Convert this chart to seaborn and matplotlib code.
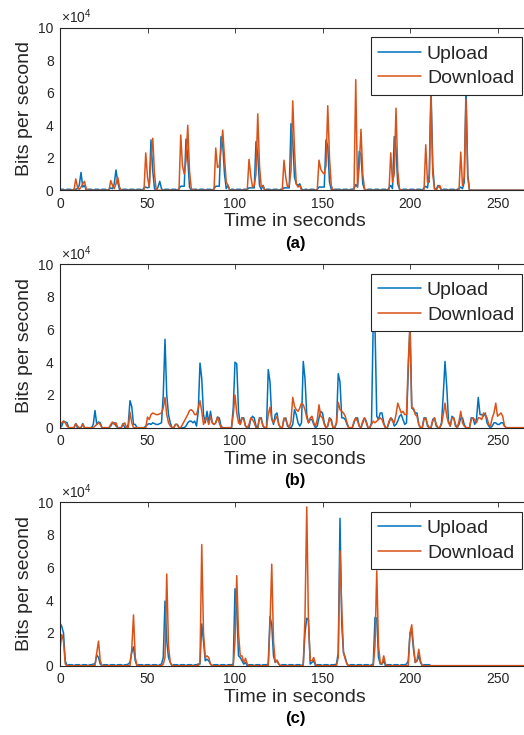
import numpy as np
import pandas as pd
import matplotlib
matplotlib.use('Agg')
import matplotlib.pyplot as plt
import seaborn as sns

# Traffic samples, one per second (t = 0 .. 265), in units of 1000 bits per second.
# Each row below covers 20 seconds.
upload_a = [
    0.6, 0.6, 0.6, 0, 0.6, 0.6, 0.6, 0, 0.6, 0.6, 1, 3, 11, 2, 3, 0, 0.6, 0.6, 0.6, 0,
    0.6, 0.6, 0.6, 0, 0.6, 0.6, 0.6, 0, 0.6, 1.5, 1, 4, 12.5, 5, 0.6, 0, 0.6, 0.6, 0.6, 0,
    0.6, 0.6, 0.6, 0, 0.6, 0.6, 0.6, 0, 1.5, 2, 1.5, 2, 31, 12, 1, 0, 2, 5.5, 1, 0,
    0.6, 0.6, 0.6, 0, 0.6, 0.6, 0.6, 0, 1, 2.5, 2.5, 2.5, 31.5, 20, 2, 0, 0.6, 0.6, 0.6, 0,
    0.6, 0.6, 0.6, 0, 0.6, 0.6, 0.6, 0, 1, 2.5, 2.5, 2.5, 33, 28, 10, 1, 3, 0, 0.6, 0.6,
    0, 0.6, 0.6, 0.6, 0, 0.6, 0.6, 0.6, 1.5, 1.5, 1.5, 1.5, 30, 22, 3, 0.6, 3, 0, 0.6, 0.6,
    0.6, 0, 0.6, 0.6, 0.6, 0, 0.6, 0.6, 1.5, 1.5, 1.5, 1.5, 41, 30, 8, 4, 3, 4, 1, 0,
    0.6, 0.6, 0, 0.6, 0.6, 0.6, 0, 0.6, 2, 2, 2, 2, 31, 27, 5, 0.6, 0, 0.6, 0.6, 0.6,
    0.6, 0, 0.6, 0.6, 0.6, 0, 0.6, 0.6, 1, 3.5, 2, 24, 22, 4, 0.6, 0, 0.6, 0.6, 0.6, 0,
    0.6, 0.6, 0.6, 0, 0.6, 0.6, 0.6, 0, 1.5, 3, 1, 33, 25, 4, 0.6, 0, 0.6, 0.6, 0.6, 0,
    0.6, 0.6, 0.6, 0, 0.6, 0.6, 0.6, 0, 1.5, 2.5, 1.5, 10, 63, 15, 1, 0.6, 3, 2, 0, 0.6,
    0.6, 0.6, 0, 0.6, 0.6, 0.6, 0, 0.6, 1, 2, 1, 5, 63, 10, 0, 0, 0, 0, 0, 0,
    0, 0, 0, 0, 0, 0, 0, 0, 0, 0, 0, 0, 0, 0, 0, 0, 0, 0, 0, 0,
    0, 0, 0, 0, 0, 0,
]
download_a = [
    0, 0, 0, 0, 0, 0, 0, 0, 0, 7, 2, 0.5, 2, 4, 5.5, 1, 0, 0, 0, 0,
    0, 0, 0, 0, 0, 0, 0, 0, 0, 6, 3, 1, 4, 8, 2, 0, 0, 0, 0, 0,
    0, 0, 0, 0, 0, 0, 0, 0, 0, 23, 8, 2, 20, 32, 10, 0, 0, 0, 0, 0,
    0, 0, 0, 0, 0, 0, 0, 0, 0, 34, 15, 10, 18, 40, 12, 1, 0, 0, 0, 0,
    0, 0, 0, 0, 0, 0, 0, 0, 0, 26, 14, 15, 25, 37, 20, 5, 3, 0, 0, 0,
    0, 0, 0, 0, 0, 0, 0, 0, 19, 9, 2, 3, 10, 47, 15, 2, 3, 0, 0, 0,
    0, 0, 0, 0, 0, 0, 0, 0, 18.5, 8, 2, 3, 12, 55, 25, 4, 2, 3, 0, 0,
    0, 0, 0, 0, 0, 0, 0, 0, 18.5, 13, 11, 10, 15, 52, 20, 3, 0, 0, 0, 0,
    0, 0, 0, 0, 0, 0, 0, 0, 0, 68, 2, 15, 37.5, 10, 1, 0, 0, 0, 0, 0,
    0, 0, 0, 0, 0, 0, 0, 0, 0, 23, 5, 10, 50.5, 12, 1, 0, 0, 0, 0, 0,
    0, 0, 0, 0, 0, 0, 0, 0, 0, 28, 5, 5, 58, 10, 1, 0, 2, 3, 0, 0,
    0, 0, 0, 0, 0, 0, 0, 0, 0, 23.5, 3, 8, 56, 8, 0, 0, 0, 0, 0, 0,
    0, 0, 0, 0, 0, 0, 0, 0, 0, 0, 0, 0, 0, 0, 0, 0, 0, 0, 0, 0,
    0, 0, 0, 0, 0, 0,
]

upload_b = [
    0, 1, 4, 3.5, 3, 0, 0, 0, 0, 2.5, 0, 0, 0, 2.5, 0, 0, 0, 0, 0, 2,
    10.5, 2, 3.5, 3, 0, 0, 0, 0, 0, 1, 3, 3, 1, 0, 0, 0, 2.5, 0, 0, 2,
    16.5, 13, 2, 2, 0, 0, 0, 0, 0, 1, 2, 2.5, 2, 3, 2.5, 2, 2, 2.5, 3, 20,
    54, 20, 8, 3, 0, 0, 2, 2, 0, 0, 0, 0, 1, 3, 4, 4, 3, 4, 1, 10,
    39.5, 30, 8, 3, 10, 3, 10, 3, 2, 3, 6.5, 6, 1, 0, 0, 0, 0, 0, 0, 12,
    40, 39, 10, 2, 6, 6, 1, 0, 0, 5, 7, 6, 1, 0, 6, 6, 1, 0, 0, 35.5,
    28, 6, 2, 8, 9, 2, 0, 0, 5, 6, 1, 0, 0, 2, 11, 8, 3, 1, 3, 40.5,
    30, 8, 3, 5, 5, 2, 0, 1, 6, 10, 9, 3, 0, 1, 6, 5, 0, 0, 3, 33,
    28, 6, 6, 5, 2, 0, 0, 0, 3, 6, 6, 1, 0, 3, 6, 4, 0, 0, 3, 65,
    62, 7, 5, 9, 9, 3, 0, 0, 3, 6, 5, 1, 2, 4, 7, 8, 5, 2, 3, 35,
    64, 12, 11, 9, 9, 2, 0, 0, 6, 6, 1, 0, 0, 5, 6, 1, 0, 0, 3, 20,
    40.5, 25, 4, 1, 7, 6, 1, 0, 2, 6, 6, 2, 0, 0, 0, 6, 6, 2, 5, 18.5,
    8, 8, 7, 9, 3, 1, 0, 1, 3, 3, 2, 2, 3, 3, 1, 0, 0, 0, 0, 0,
    0, 0, 0, 0, 0, 0,
]
download_b = [
    0, 3, 4, 3, 1, 0, 0, 0, 0, 2.5, 1, 0, 0, 2, 0, 0, 0, 0, 0, 0,
    1, 2, 3, 2, 0, 0, 0, 0, 0, 2, 3.5, 2, 3, 0, 0, 0, 2, 3, 0, 0,
    9.5, 3, 0, 0, 0, 0, 0, 0, 0, 0, 6.5, 5, 8, 9, 8.5, 8, 8, 8.5, 9, 12,
    18.5, 8, 3, 1, 0, 0, 2, 2, 0, 0, 2, 4, 6, 8, 10.5, 11, 10, 8, 8, 12,
    16.5, 10, 2, 5, 6, 2, 7, 3, 2, 3, 6.5, 3, 0, 0, 0, 0, 0, 0, 0, 8,
    20, 9, 3, 2, 6, 5, 1, 0, 2, 6, 5, 3, 0, 0, 6, 5, 1, 0, 0, 8,
    12.5, 5, 3, 5, 7, 2, 0, 0, 6, 5, 2, 0, 4, 18.5, 13, 11, 10, 12, 15, 14,
    11, 6, 3, 6, 7, 3, 1, 5, 14, 7, 6, 2, 0, 1, 6, 4, 0, 0, 3, 15.5,
    11, 10, 9, 7, 3, 0, 0, 0, 4, 6, 4, 1, 0, 4, 6, 3, 0, 0, 2, 4,
    3, 4, 5, 6, 5, 2, 0, 0, 4, 6, 4, 3, 8, 15, 12, 9, 10, 8, 8, 40,
    62, 12, 12, 8, 7, 2, 0, 0, 5, 6, 2, 0, 0, 4, 6, 2, 0, 0, 2, 8,
    15, 7, 3, 1, 6, 6, 2, 0, 4, 10, 3, 1, 0, 0, 0, 5, 6, 5, 3, 6,
    6, 5, 9, 8, 6, 2, 1, 6, 9, 15, 7, 8, 9, 7, 1, 0, 0, 0, 0, 0,
    0, 0, 0, 0, 0, 0,
]

upload_c = [
    26, 24, 20, 3, 0, 0.6, 0.6, 0.6, 0, 0.6, 0.6, 0.6, 0, 0.6, 0.6, 0.6, 0, 0.6, 0.6, 1,
    1, 6.5, 5, 1, 0, 0.6, 0.6, 0.6, 0, 0.6, 0.6, 0.6, 0, 0.6, 0.6, 0.6, 0, 0.6, 0.6, 1,
    2, 8, 11.5, 3, 0, 0.6, 0.6, 0.6, 0, 0.6, 0.6, 0.6, 0, 0.6, 0.6, 0.6, 0, 0.6, 1, 5,
    39.5, 15, 5, 2, 0, 0.6, 0.6, 0.6, 0, 0.6, 0.6, 0.6, 0, 0.6, 0.6, 0.6, 0, 0.6, 0.6, 1,
    1, 25.5, 15, 3, 4, 3, 1, 0, 0.6, 0.6, 0.6, 0, 0.6, 0.6, 0.6, 0, 0.6, 0.6, 0.6, 1,
    47, 35, 6, 5, 3, 1, 2, 0, 0.6, 0.6, 0.6, 0, 0.6, 0.6, 0.6, 0, 0.6, 0.6, 0.6, 1,
    30, 25, 6, 2, 3, 1, 0, 0.6, 0.6, 0.6, 0, 0.6, 0.6, 0.6, 0, 0.6, 0.6, 0.6, 0, 1,
    20, 29, 28, 1, 2, 3, 0, 0.6, 0.6, 0.6, 0, 0.6, 0.6, 0.6, 0, 0.6, 0.6, 0.6, 1, 8,
    90, 25, 8, 5, 1, 0, 0.6, 0.6, 0.6, 0, 0.6, 0.6, 0.6, 0, 0.6, 0.6, 0.6, 0, 0.6, 1,
    29.5, 29, 5, 1, 1, 3, 0, 0.6, 0.6, 0.6, 0, 0.6, 0.6, 0.6, 0, 0.6, 0.6, 0.6, 1, 3,
    20, 21, 10, 2, 3, 6, 2, 0, 0.6, 0.6, 0.6, 0.6, 0, 0, 0, 0, 0, 0, 0, 0,
    0, 0, 0, 0, 0, 0, 0, 0, 0, 0, 0, 0, 0, 0, 0, 0, 0, 0, 0, 0,
    0, 0, 0, 0, 0, 0, 0, 0, 0, 0, 0, 0, 0, 0, 0, 0, 0, 0, 0, 0,
    0, 0, 0, 0, 0, 0,
]
download_c = [
    10, 19, 15, 1, 0, 0, 0, 0, 0, 0, 0, 0, 0, 0, 0, 0, 0, 0, 0, 0,
    0, 8, 15, 3, 0, 0, 0, 0, 0, 0, 0, 0, 0, 0, 0, 0, 0, 0, 0, 0,
    0, 10, 31, 5, 0, 0, 0, 0, 0, 0, 0, 0, 0, 0, 0, 0, 0, 0, 0, 1,
    5, 56, 12, 2, 0, 0, 0, 0, 0, 0, 0, 0, 0, 0, 0, 0, 0, 0, 0, 0,
    2, 74, 20, 5, 6, 5, 1, 0, 0, 0, 0, 0, 0, 0, 0, 0, 0, 0, 0, 0,
    15, 55, 20, 6, 6, 2, 4.5, 1, 0, 0, 0, 0, 0, 0, 0, 0, 0, 0, 0, 0,
    25, 62, 15, 2, 3.5, 1, 0, 0, 0, 0, 0, 0, 0, 0, 0, 0, 0, 0, 0, 0,
    30, 97, 25, 3, 3, 5, 1, 0, 0, 0, 0, 0, 0, 0, 0, 0, 0, 0, 0, 5,
    70, 35, 8, 4, 1, 0, 0, 0, 0, 0, 0, 0, 0, 0, 0, 0, 0, 0, 0, 0,
    12, 58, 12, 2, 1, 6, 1, 0, 0, 0, 0, 0, 0, 0, 0, 0, 0, 0, 0, 0,
    20, 25, 12, 2, 3, 10, 3, 0, 0, 0, 0, 0, 0, 0, 0, 0, 0, 0, 0, 0,
    0, 0, 0, 0, 0, 0, 0, 0, 0, 0, 0, 0, 0, 0, 0, 0, 0, 0, 0, 0,
    0, 0, 0, 0, 0, 0, 0, 0, 0, 0, 0, 0, 0, 0, 0, 0, 0, 0, 0, 0,
    0, 0, 0, 0, 0, 0,
]

panels = [
    ('(a)', upload_a, download_a),
    ('(b)', upload_b, download_b),
    ('(c)', upload_c, download_c),
]
series_names = ['Upload', 'Download']
x_ticks = [0, 50, 100, 150, 200, 250]
y_ticks = [0, 20000, 40000, 60000, 80000, 100000]
y_tick_labels = ['0', '2', '4', '6', '8', '10']

# MATLAB default line colours
colors = ['#0072BD', '#D95319']
axis_grey = '#262626'

sns.set_theme(style='white')
plt.rcParams['font.family'] = ['Liberation Sans', 'DejaVu Sans']
plt.rcParams['mathtext.fontset'] = 'custom'
plt.rcParams['mathtext.rm'] = 'Liberation Sans'

fig = plt.figure(figsize=(5.24, 7.35), dpi=100)

# axes boxes in pixels: (top, bottom)
boxes = [(27.7, 190.3), (264.0, 427.7), (502.0, 665.7)]
left_px, right_px = 60, 530
W, H = 524, 735

for (letter, up, down), (top, bottom) in zip(panels, boxes):
    ax = fig.add_axes([left_px / W, 1 - bottom / H,
                       (right_px - left_px) / W, (bottom - top) / H])

    # long table: one row per sample
    parts = []
    for name, vals in zip(series_names, [up, down]):
        vals = np.asarray(vals, dtype=float) * 1000
        parts.append(pd.DataFrame({'time': np.arange(len(vals)),
                                   'bps': vals, 'series': name}))
    df = pd.concat(parts, ignore_index=True)

    sns.lineplot(data=df, x='time', y='bps', hue='series',
                 hue_order=series_names, palette=colors,
                 linewidth=1.1, errorbar=None, legend=False, ax=ax)

    ax.set_xlim(0, (right_px - left_px) / 1.75)
    ax.set_ylim(0, 100000)
    ax.set_xticks(x_ticks)
    ax.set_yticks(y_ticks)
    ax.set_yticklabels(y_tick_labels)

    ax.tick_params(direction='in', length=3.3, width=0.6, top=True, right=True,
                   labelsize=10, colors=axis_grey, pad=4.5)
    for spine in ax.spines.values():
        spine.set_color(axis_grey)
        spine.set_linewidth(0.8)

    ax.set_xlabel('Time in seconds', fontsize=14, color=axis_grey, labelpad=2)
    ax.set_ylabel('Bits per second', fontsize=14, color=axis_grey, labelpad=4)

    # exponent note above the y axis
    ax.annotate(r'$\times10^{4}$', xy=(0, 1), xycoords='axes fraction',
                xytext=(1, 1), textcoords='offset points',
                ha='left', va='bottom', fontsize=10, color=axis_grey)

    # panel letter under the x label
    ax.annotate(letter, xy=(0.5, 0), xycoords='axes fraction',
                xytext=(0, -53), textcoords='offset pixels',
                ha='center', va='center', fontsize=12, fontweight='bold',
                color='black')

    leg = ax.legend(ax.lines[:2], series_names, loc='upper right',
                    bbox_to_anchor=(0.983, 0.94), borderaxespad=0,
                    fontsize=14, frameon=True, fancybox=False, framealpha=1,
                    edgecolor=axis_grey, borderpad=0.4, labelspacing=0.35,
                    handlelength=2.2, handletextpad=0.3)
    leg.get_frame().set_linewidth(0.8)
    leg.set_zorder(5)

fig.savefig('out.png', dpi=100)
